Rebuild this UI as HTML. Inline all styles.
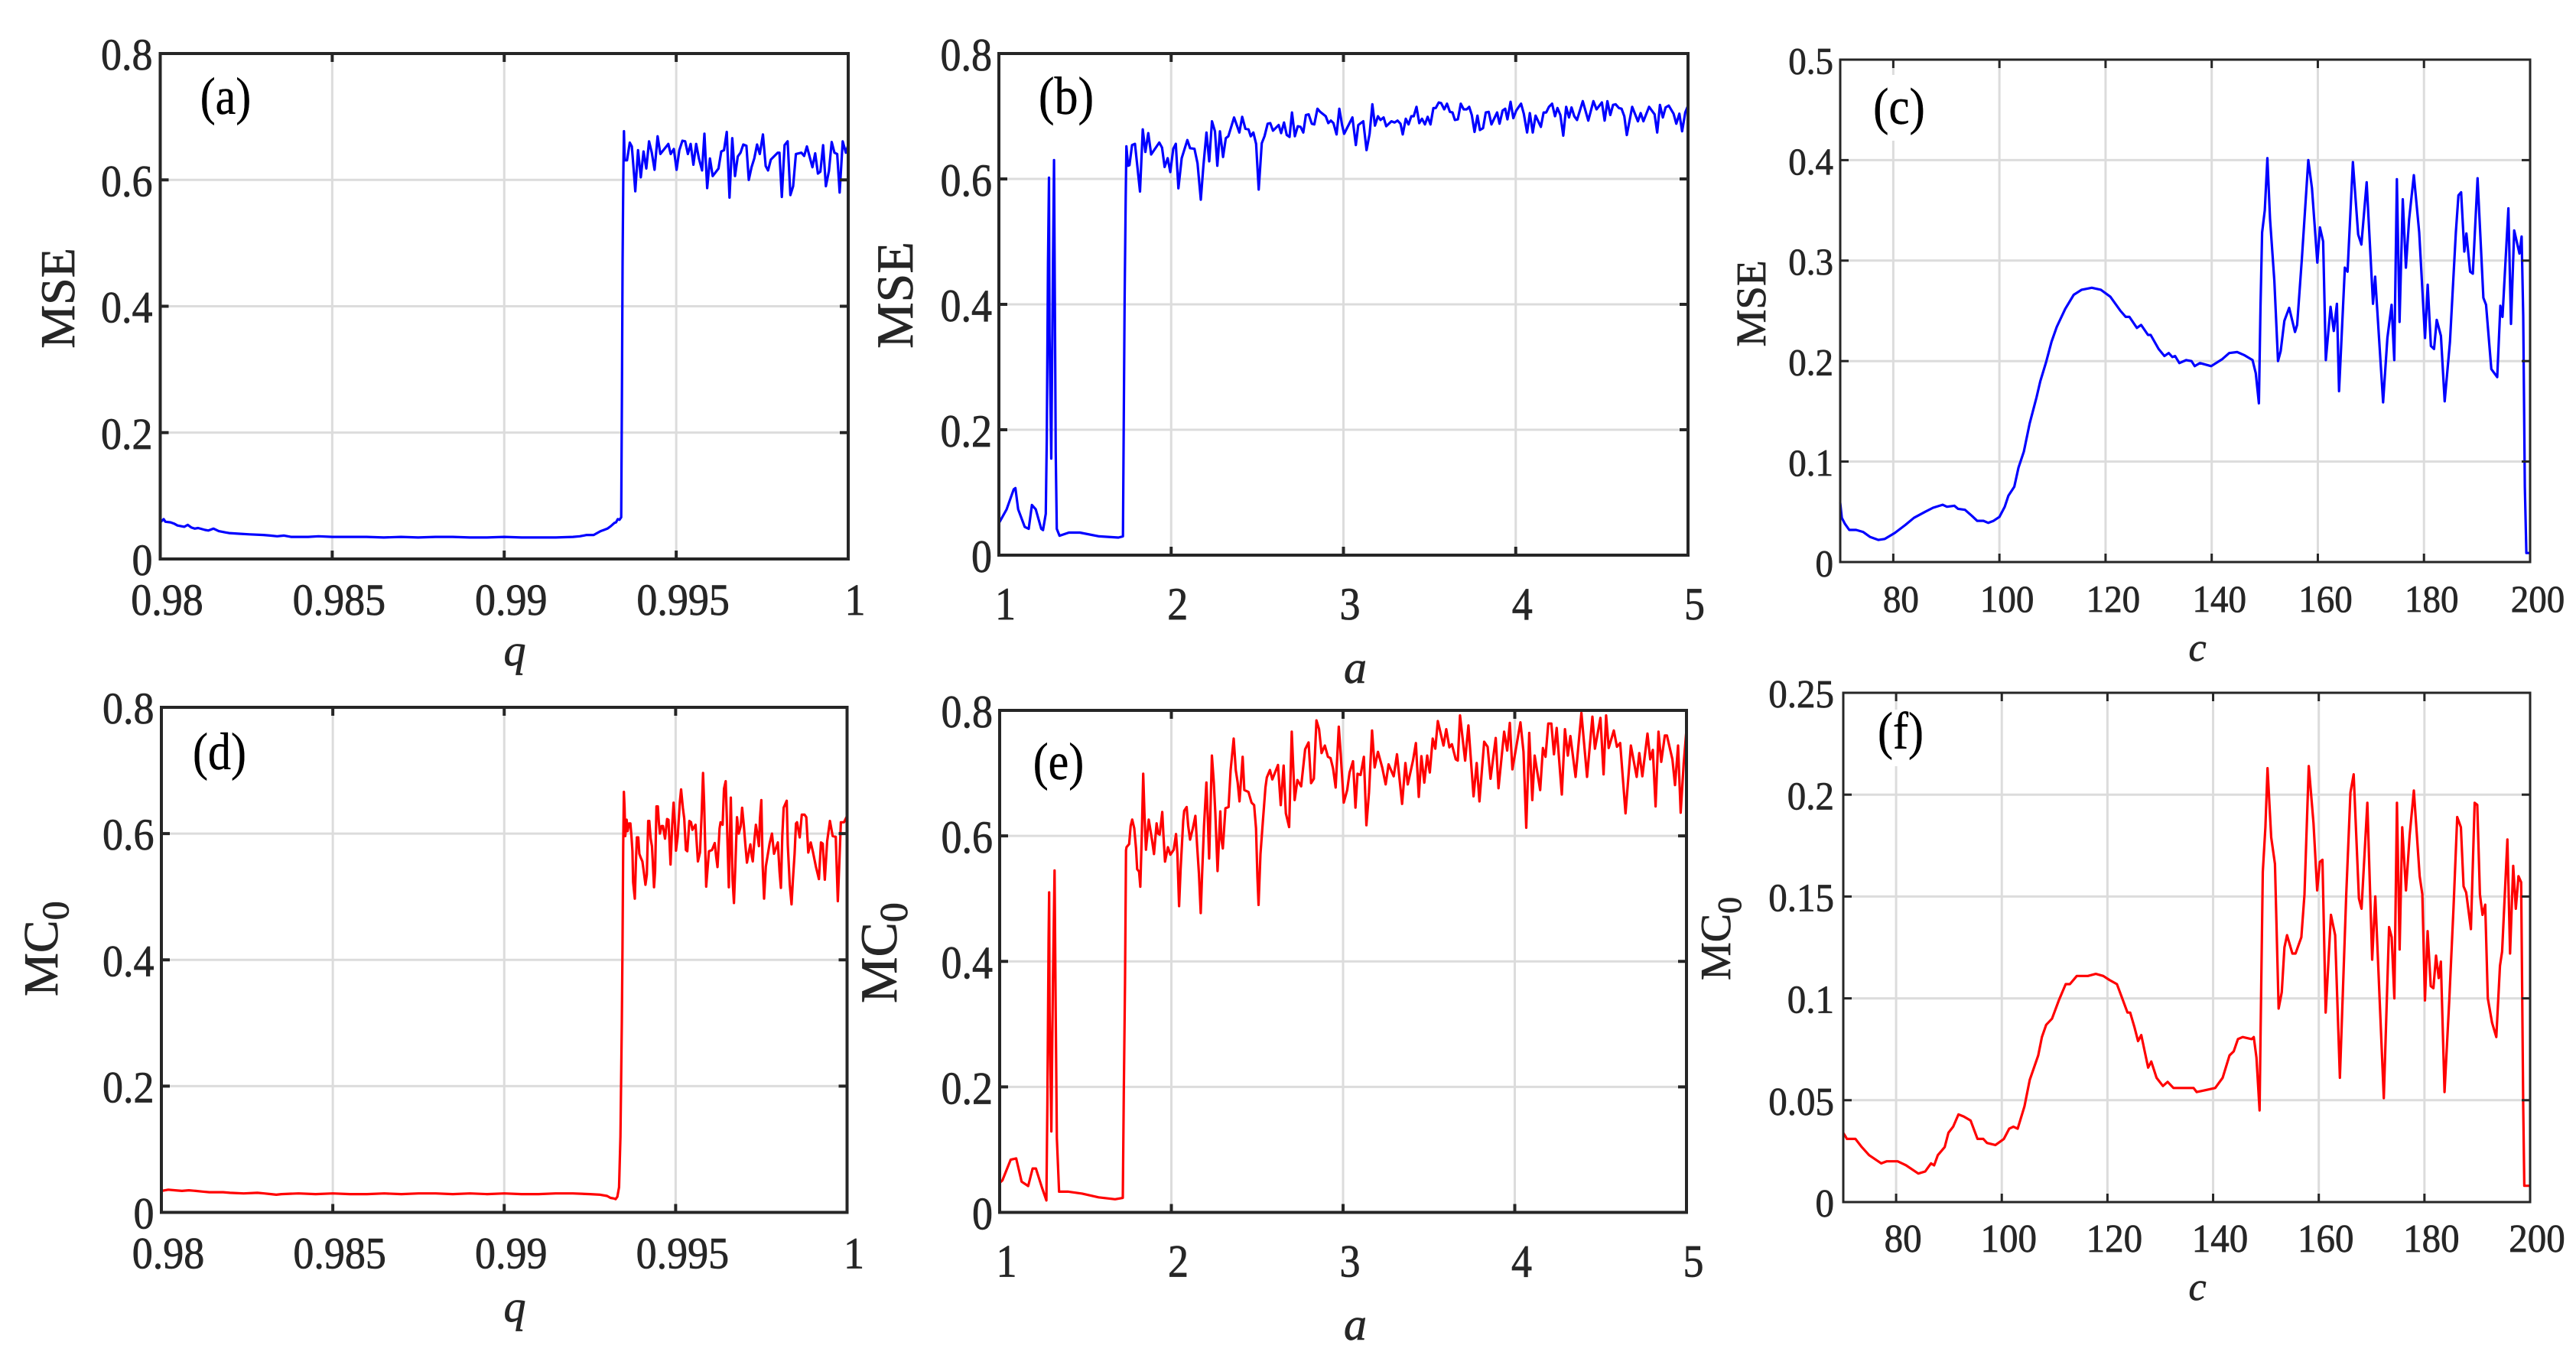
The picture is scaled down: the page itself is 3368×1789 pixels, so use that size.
<!DOCTYPE html>
<html lang="en">
<head>
<meta charset="utf-8">
<title>MSE and MC0 parameter sweeps</title>
<style>
html,body{margin:0;padding:0;background:#fff;width:3368px;height:1789px;overflow:hidden}
svg{display:block}
text{font-family:"Liberation Serif",serif;fill:#262626;stroke:#262626;stroke-width:.7px}
.pl{fill:#000;stroke:#000;stroke-width:.4px}
.it{font-style:italic}
</style>
</head>
<body>
<svg id="figure" xmlns="http://www.w3.org/2000/svg" width="3368" height="1789" viewBox="0 0 3368 1789">
<rect x="0" y="0" width="3368" height="1789" fill="#fff"/>
<g id="plots"></g>
<g>
<rect x="2449" y="98" width="68" height="86" fill="#fff"/>
<rect x="2454" y="928" width="62" height="74" fill="#fff"/>
<text class="pl" transform="translate(295 149) scale(1 1.14)" font-size="60" text-anchor="middle">(a)</text>
<text class="pl" transform="translate(1394 149) scale(1 1.12)" font-size="62" text-anchor="middle">(b)</text>
<text class="pl" transform="translate(2483 162) scale(1 1.12)" font-size="61" text-anchor="middle">(c)</text>
<text class="pl" transform="translate(287 1006) scale(1 1.14)" font-size="60" text-anchor="middle">(d)</text>
<text class="pl" transform="translate(1384 1019) scale(1 1.14)" font-size="60" text-anchor="middle">(e)</text>
<text class="pl" transform="translate(2485 979) scale(1 1.14)" font-size="60" text-anchor="middle">(f)</text>
<text class="it" x="673" y="870" font-size="58" text-anchor="middle">q</text>
<text class="it" x="1772" y="893" font-size="60" text-anchor="middle">a</text>
<text class="it" x="2873" y="864" font-size="52" text-anchor="middle">c</text>
<text class="it" x="673" y="1728" font-size="58" text-anchor="middle">q</text>
<text class="it" x="1772" y="1752" font-size="60" text-anchor="middle">a</text>
<text class="it" x="2873" y="1700" font-size="52" text-anchor="middle">c</text>
<text transform="translate(97 390) rotate(-90)" font-size="64" text-anchor="middle">MSE</text>
<text transform="translate(1193 386) rotate(-90)" font-size="68" text-anchor="middle">MSE</text>
<text transform="translate(2308 397) rotate(-90)" font-size="55" text-anchor="middle">MSE</text>
<text transform="translate(75 1303) rotate(-90)" font-size="64">MC<tspan font-size="50" dy="14">0</tspan></text>
<text transform="translate(1172 1312) rotate(-90)" font-size="68">MC<tspan font-size="52" dy="14">0</tspan></text>
<text transform="translate(2262 1282) rotate(-90)" font-size="56">MC<tspan font-size="44" dy="14">0</tspan></text>
</g>
</svg>
<script>
// Tick values and labels
const qTickValues = [0.98, 0.985, 0.99, 0.995, 1];
const qTickLabels = ["0.98", "0.985", "0.99", "0.995", "1"];
const aTickValues = [1, 2, 3, 4, 5];
const aTickLabels = ["1", "2", "3", "4", "5"];
const cTickValues = [80, 100, 120, 140, 160, 180, 200];
const cTickLabels = ["80", "100", "120", "140", "160", "180", "200"];
const y08TickValues = [0, 0.2, 0.4, 0.6, 0.8];
const y08TickLabels = ["0", "0.2", "0.4", "0.6", "0.8"];
const y05TickValues = [0, 0.1, 0.2, 0.3, 0.4, 0.5];
const y05TickLabels = ["0", "0.1", "0.2", "0.3", "0.4", "0.5"];
const y025TickValues = [0, 0.05, 0.1, 0.15, 0.2, 0.25];
const y025TickLabels = ["0", "0.05", "0.1", "0.15", "0.2", "0.25"];

// Panel (a): MSE vs q
const seriesAX = [.98,.9801,.98015,.9803,.9804,.9805,.9807,.9808,.9809,.981,.9811,.9813,.9814,.98155,.9817,.9819,.982,.9823,.9826,.983,.9832,.9834,.9836,.9838,.984,.9843,.9846,.985,.9855,.986,.9865,.987,.9875,.988,.9885,.989,.9895,.99,.9905,.991,.9915,.992,.9922,.9924,.9926,.9927,.9928,.9929,.993,.9931,.9932,.99325,.9933,.99335,.9934,.99342,.99344,.99346,.99347,
.99348,.99350,.99357,.99365,.99371,.99376,.99381,.99389,.99397,.99405,.99413,.99421,.99429,.99437,.99446,.99454,.99477,.99484,.99493,.99501,.99509,.99518,.99526,.99534,.99542,.99550,.99558,.99566,.99575,.99582,.99590,.99598,.99606,.99623,.99631,.99639,.99647,.99655,.99663,.99671,.99679,.99687,.99695,.99704,.99711,.99719,.99727,.99735,.99743,.99752,.99760,.99767,.99775,.99795,.99800,.99807,.99815,.99824,.99832,.99840,.99848,.99864,.99872,.99880,.99896,.99904,.99912,.99919,.99927,.99935,.99944,.99952,.99960,.99968,.99975,.99984,.99993,1];
const seriesAY = [.058,.063,.059,.058,.056,.053,.051,.054,.050,.048,.049,.046,.045,.048,.044,.042,.041,.040,.039,.038,.037,.036,.037,.035,.035,.035,.036,.035,.035,.035,.034,.035,.034,.035,.035,.034,.034,.035,.034,.034,.034,.035,.036,.038,.038,.041,.044,.046,.048,.052,.057,.058,.063,.062,.066,.25,.47,.60,.64,
.677,.631,.631,.659,.653,.618,.582,.647,.604,.645,.618,.661,.643,.616,.669,.641,.657,.641,.649,.616,.647,.662,.661,.641,.657,.624,.657,.634,.615,.673,.587,.634,.606,.618,.645,.647,.676,.572,.666,.606,.637,.643,.656,.654,.600,.620,.634,.656,.641,.672,.622,.615,.632,.643,.643,.573,.655,.661,.576,.590,.641,.643,.638,.653,.620,.642,.610,.613,.655,.590,.614,.660,.643,.641,.580,.661,.643,.655];

// Panel (b): MSE vs a
const seriesBX = [1,1.045,1.086,1.096,1.112,1.15,1.173,1.192,1.214,1.246,1.256,1.272,1.278,1.285,1.291,1.294,1.304,1.314,1.32,1.326,1.33,1.336,1.352,1.406,1.47,1.582,1.694,1.72,1.73,1.736,
1.740,1.750,1.758,1.773,1.790,1.805,1.819,1.835,1.850,1.867,1.884,1.931,1.947,1.962,1.980,1.995,2.012,2.027,2.042,2.061,2.094,2.110,2.135,2.153,2.172,2.187,2.205,2.221,2.237,2.254,2.268,2.283,2.301,2.317,2.332,2.365,2.396,2.412,2.431,2.449,2.462,2.477,2.493,2.508,2.526,2.542,2.560,2.575,2.591,2.624,2.638,2.655,2.671,2.687,2.701,2.718,2.735,2.751,2.767,2.782,2.798,2.816,2.831,2.849,2.865,2.897,2.912,2.927,2.942,2.960,2.976,
2.992,3.004,3.052,3.072,3.086,3.115,3.134,3.152,3.168,3.183,3.200,3.215,3.233,3.248,3.279,3.297,3.314,3.331,3.344,3.362,3.378,3.394,3.408,3.424,3.440,3.456,3.473,3.489,3.505,3.522,3.536,3.553,3.567,3.585,3.601,3.618,3.633,3.647,3.664,3.681,3.698,3.715,3.730,3.745,3.761,3.778,3.792,3.810,3.826,3.843,3.859,3.892,3.906,3.924,3.939,3.952,3.970,3.986,4.003,4.031,4.047,4.066,4.082,4.099,4.115,4.146,4.162,4.177,4.193,4.211,4.228,4.242,4.259,4.276,4.293,4.309,4.324,4.340,4.356,4.389,4.421,4.451,4.469,4.500,4.516,4.532,4.549,4.565,4.580,4.599,4.614,4.630,4.645,4.676,4.709,4.725,4.741,4.774,4.806,4.821,4.837,4.854,4.870,4.888,4.916,4.932,4.950,4.966,4.984,5];
const seriesBY = [.051,.073,.105,.107,.073,.045,.042,.08,.073,.042,.04,.066,.185,.465,.602,.353,.154,.465,.63,.36,.164,.042,.031,.036,.036,.030,.028,.030,.409,.57,
.652,.621,.622,.654,.656,.617,.580,.679,.643,.673,.639,.658,.650,.619,.633,.611,.648,.656,.585,.633,.662,.649,.648,.625,.567,.621,.674,.628,.692,.676,.621,.676,.635,.665,.668,.698,.674,.699,.680,.679,.668,.674,.656,.583,.657,.668,.688,.689,.677,.686,.673,.690,.670,.667,.706,.668,.684,.683,.674,.702,.703,.688,.687,.712,.707,.700,.689,.693,.689,.671,.712,
.686,.672,.698,.654,.686,.692,.646,.672,.719,.685,.700,.694,.698,.684,.692,.690,.693,.688,.671,.696,.687,.700,.700,.715,.689,.696,.687,.699,.687,.713,.713,.722,.721,.711,.720,.707,.706,.694,.695,.720,.711,.711,.715,.702,.675,.701,.678,.681,.706,.707,.687,.706,.688,.709,.712,.695,.723,.697,.709,.720,.704,.674,.705,.674,.701,.683,.706,.706,.715,.720,.700,.713,.702,.669,.715,.698,.714,.700,.694,.724,.693,.724,.711,.722,.693,.724,.702,.718,.719,.713,.712,.700,.670,.715,.692,.705,.692,.715,.703,.674,.718,.698,.714,.717,.704,.688,.704,.676,.706,.717];

// Panel (c): MSE vs c
const seriesCX = [70,70.3,70.9,71.7,73,74.3,75.6,77.2,78.4,80.3,82.3,83.9,86,87.5,89.3,90.1,91.5,92.2,93.5,94.8,95.8,97,97.9,98.9,100,101,101.7,102.8,103.6,104.6,105.7,107,107.7,108.8,109.8,110.8,112.4,114,115.5,117.4,119.1,120.9,122.8,123.8,124.5,125.9,126.7,128,128.5,130,131.1,131.9,132.6,133.1,133.9,135.2,136.2,136.8,137.8,139.9,142,143.3,144.8,146.1,147.7,148.3,148.9,149.2,149.5,150,150.5,151,151.8,152.5,153,153.7,154.6,155.7,156.1,157,158.2,158.9,159.9,160.4,161,161.5,162.4,163,163.6,164,165.1,165.6,166.6,167.6,168.2,169.2,170.4,170.8,172.3,173.1,173.9,174.4,174.9,175.4,176,176.6,177.2,178.1,179.1,180.2,180.7,181.3,181.9,182.4,183.2,183.9,184.9,186,186.5,187,187.6,188,188.7,189.2,190.1,191.2,191.7,192.7,193.8,194.4,194.8,195.9,196.4,197,198,198.4,198.7,199,199.3,200];
const seriesCY = [.059,.044,.038,.032,.032,.030,.025,.022,.023,.029,.037,.044,.050,.054,.057,.055,.056,.053,.052,.046,.041,.041,.039,.041,.045,.055,.066,.075,.094,.110,.138,.164,.180,.199,.219,.234,.252,.266,.271,.273,.271,.264,.250,.244,.244,.233,.236,.226,.226,.212,.205,.208,.204,.205,.198,.201,.200,.195,.198,.195,.202,.208,.209,.206,.201,.188,.158,.254,.328,.350,.402,.341,.280,.200,.210,.240,.253,.229,.236,.302,.400,.372,.298,.333,.319,.201,.254,.230,.257,.170,.293,.289,.398,.326,.316,.378,.257,.284,.159,.223,.256,.201,.381,.239,.361,.293,.341,.385,.328,.223,.276,.215,.212,.241,.225,.160,.219,.328,.365,.368,.309,.327,.289,.287,.382,.263,.256,.192,.184,.255,.244,.352,.237,.330,.307,.324,.245,.075,.009,.009];

// Panel (d): MC0 vs q
const seriesDX = [.98,.9802,.9804,.9806,.9808,.981,.9812,.9814,.9816,.9818,.982,.9824,.9828,.983,.9832,.98335,.9835,.984,.9845,.985,.9855,.986,.9865,.987,.9875,.988,.9885,.989,.9895,.99,.9905,.991,.9915,.992,.9925,.9928,.993,.9931,.9932,.99325,.9933,.99335,.99339,.99343,.99345,
.99347,.99349,.99351,.99353,.99357,.99360,.99364,.99368,.99371,.99374,.99376,.99381,.99384,.99387,.99391,.99394,.99398,.99403,.99407,.99412,.99416,.99420,.99423,.99427,.99431,.99433,.99437,.99440,.99444,.99448,.99451,.99454,.99459,.99463,.99469,.99475,.99479,.99485,.99490,.99494,.99498,.99501,.99506,.99512,.99516,.99521,.99525,.99530,.99534,.99540,.99545,.99549,.99558,.99562,.99565,.99571,.99576,.99580,.99583,.99589,.99597,.99606,.99614,.99618,.99622,.99628,.99631,.99637,.99641,.99646,.99649,.99655,.99661,.99666,.99670,.99674,.99679,.99684,.99690,.99694,.99699,.99703,.99708,.99714,.99718,.99722,.99725,.99730,.99734,.99738,.99743,.99746,.99750,.99754,.99758,.99763,.99768,.99774,.99781,.99787,.99798,.99803,.99807,.99811,.99815,.99824,.99827,.99833,.99838,.99842,.99847,.99851,.99854,.99862,.99868,.99876,.99881,.99887,.99894,.99900,.99909,.99918,.99924,.99929,.99935,.99942,.99950,.99958,.99967,.99973,.99978,.99982,.99991,1];
const seriesDY = [.034,.036,.035,.034,.035,.034,.033,.032,.032,.032,.031,.030,.031,.030,.029,.028,.029,.030,.029,.030,.029,.029,.030,.029,.030,.030,.029,.030,.029,.030,.029,.029,.030,.030,.029,.028,.026,.023,.022,.021,.025,.04,.12,.30,.42,
.58,.666,.641,.596,.622,.604,.616,.616,.596,.572,.523,.497,.554,.594,.594,.568,.562,.556,.540,.519,.535,.620,.620,.592,.580,.560,.515,.540,.643,.643,.618,.600,.612,.612,.592,.623,.622,.551,.614,.649,.614,.573,.596,.649,.670,.641,.624,.574,.572,.620,.618,.606,.614,.580,.556,.570,.632,.696,.649,.516,.572,.574,.585,.564,.547,.608,.618,.614,.671,.683,.628,.515,.657,.527,.490,.548,.626,.600,.612,.641,.612,.584,.554,.572,.583,.564,.556,.592,.614,.600,.580,.624,.653,.548,.497,.548,.564,.584,.600,.568,.586,.540,.514,.596,.641,.652,.582,.519,.488,.527,.568,.616,.618,.594,.630,.630,.626,.570,.586,.572,.548,.528,.586,.584,.527,.588,.620,.596,.595,.493,.560,.618,.618,.628];

// Panel (e): MC0 vs a
const seriesEX = [1,1.016,1.064,1.096,1.128,1.166,1.192,1.211,1.246,1.272,1.278,1.285,1.288,1.291,1.301,1.31,1.32,1.326,1.333,1.346,1.40,1.48,1.576,1.672,1.717,1.723,1.73,1.736,
1.739,1.754,1.763,1.772,1.784,1.794,1.801,1.812,1.819,1.828,1.836,1.843,1.852,1.868,1.879,1.888,1.899,1.914,1.922,1.932,1.947,1.954,1.963,1.980,1.994,2.014,2.027,2.035,2.045,2.054,2.069,2.075,2.089,2.098,2.109,2.125,2.140,2.150,2.161,2.171,2.179,2.190,2.204,2.211,2.220,2.236,2.247,2.256,2.269,2.285,2.291,2.300,2.315,2.333,2.345,2.363,2.375,2.386,2.397,2.415,2.425,2.449,2.467,2.482,2.493,2.501,2.508,2.519,2.533,2.548,2.556,2.574,2.588,2.621,2.637,2.654,2.667,2.686,2.701,2.718,2.734,2.756,2.779,2.799,2.814,2.830,2.845,2.860,2.875,2.894,2.912,2.927,2.942,2.957,2.975,2.986,3.004,3.024,3.038,3.058,
3.072,3.084,3.102,3.121,3.136,3.151,3.169,3.184,3.203,3.228,3.248,3.265,3.295,3.314,3.344,3.363,3.377,3.407,3.424,3.441,3.456,3.473,3.490,3.505,3.522,3.537,3.552,3.585,3.601,3.619,3.634,3.656,3.668,3.681,3.711,3.730,3.760,3.778,3.794,3.822,3.842,3.859,3.889,3.905,3.938,3.956,3.971,3.986,4.033,4.051,4.067,4.084,4.102,4.116,4.148,4.164,4.179,4.195,4.213,4.228,4.244,4.274,4.292,4.309,4.324,4.354,4.388,4.421,4.452,4.467,4.499,4.517,4.532,4.547,4.577,4.595,4.614,4.645,4.676,4.710,4.725,4.743,4.773,4.789,4.804,4.820,4.837,4.853,4.874,4.886,4.918,4.933,4.951,4.966,4.984,5];
const seriesEY = [.047,.051,.084,.086,.049,.042,.070,.070,.040,.019,.174,.436,.510,.323,.129,.365,.545,.33,.118,.033,.033,.030,.024,.021,.023,.189,.365,.577,
.582,.587,.616,.626,.612,.580,.547,.543,.519,.604,.699,.636,.578,.626,.608,.592,.571,.620,.604,.602,.638,.600,.559,.582,.570,.578,.603,.571,.488,.547,.624,.640,.646,.616,.594,.612,.632,.584,.539,.477,.539,.616,.685,.636,.564,.728,.685,.636,.544,.639,.596,.580,.644,.646,.705,.755,.705,.685,.655,.726,.673,.670,.653,.649,.612,.535,.490,.571,.624,.677,.693,.705,.690,.713,.649,.712,.636,.614,.766,.657,.689,.679,.738,.749,.684,.691,.784,.770,.732,.744,.726,.724,.707,.677,.774,.730,.653,.673,.701,.719,
.645,.699,.697,.726,.617,.669,.768,.709,.734,.709,.682,.714,.695,.730,.651,.716,.682,.720,.748,.662,.727,.685,.728,.701,.755,.739,.783,.744,.770,.741,.746,.722,.720,.792,.720,.776,.663,.716,.655,.750,.742,.691,.756,.676,.766,.736,.780,.706,.781,.734,.613,.764,.657,.728,.673,.740,.726,.779,.779,.730,.772,.666,.770,.728,.759,.694,.796,.694,.790,.739,.788,.698,.792,.740,.768,.742,.748,.636,.744,.694,.732,.695,.763,.722,.737,.647,.766,.718,.760,.760,.722,.681,.744,.637,.716,.770];

// Panel (f): MC0 vs c
const seriesFX = [70,70.7,72.3,73.5,74.9,77.2,78.2,80.3,81.9,84.2,85.5,86.6,87.2,87.9,89.2,89.9,90.8,91.8,92.8,94.1,95.4,96.5,97.2,98.8,100.4,101.4,102.2,103,104.3,105.3,106.9,107.6,108.4,109.5,110.8,112.1,112.9,114.2,116.3,117.8,119.2,120.4,121.8,122.8,123.8,124.3,125.1,125.8,126.4,127.7,128.3,129.3,130.5,131.4,132.5,135,136.3,136.9,138.6,140.4,141.8,143.1,143.9,144.7,145.6,147.3,147.7,148.2,148.8,149,149.4,149.9,150.3,151,151.7,152.4,153,153.5,154,155,155.6,156.7,157.3,158.1,159,159.7,160.2,160.7,161.3,162.3,163.1,164,165.2,166,166.6,167.6,168.1,169.2,170.1,170.7,172.3,173.3,173.8,174.3,174.8,175.3,175.8,176.5,177.2,178,179.1,179.6,180.1,180.6,181.2,181.7,182.2,182.7,183.1,183.8,184.7,185.5,186.2,186.9,187.4,187.9,188.8,189.5,190,190.5,191,191.5,192,192.8,193.6,194.3,194.7,195.7,196.2,196.8,197.3,197.8,198.3,198.7,198.9,200];
const seriesFY = [.034,.031,.031,.027,.023,.019,.020,.020,.018,.014,.015,.019,.018,.023,.027,.034,.037,.043,.042,.040,.031,.031,.029,.028,.031,.036,.037,.036,.047,.060,.072,.081,.087,.090,.099,.107,.107,.111,.111,.112,.111,.109,.107,.100,.093,.093,.086,.079,.082,.066,.069,.061,.057,.059,.056,.056,.056,.054,.055,.056,.061,.072,.074,.080,.081,.080,.081,.071,.045,.086,.162,.184,.213,.179,.166,.095,.103,.125,.131,.122,.122,.130,.151,.214,.186,.153,.167,.168,.093,.141,.131,.061,.151,.201,.210,.149,.144,.196,.119,.150,.051,.135,.130,.100,.196,.124,.184,.153,.180,.202,.160,.151,.099,.133,.106,.105,.121,.110,.118,.054,.099,.144,.189,.184,.155,.152,.134,.196,.195,.151,.141,.146,.100,.088,.081,.116,.123,.178,.122,.165,.144,.160,.157,.047,.008,.008];

const panels = [
  {id:'a', box:[209.5,70,1109,731], xd:[.98,1], yd:[0,.8], xv:qTickValues, xl:qTickLabels, yv:y08TickValues, yl:y08TickLabels, X:seriesAX, Y:seriesAY, color:'#0000ff', fs:54, stretch:1.07, xShift:9, xBase:73, yRight:199.5, aw:4},
  {id:'b', box:[1306,70,2207,726], xd:[1,5], yd:[0,.8], xv:aTickValues, xl:aTickLabels, yv:y08TickValues, yl:y08TickLabels, X:seriesBX, Y:seriesBY, color:'#0000ff', fs:54, stretch:1.12, xShift:8.5, xBase:84, yRight:1297, aw:4},
  {id:'c', box:[2406,78,3308,735], xd:[70,200], yd:[0,.5], xv:cTickValues, xl:cTickLabels, yv:y05TickValues, yl:y05TickLabels, X:seriesCX, Y:seriesCY, color:'#0000ff', fs:47, stretch:1.06, xShift:10, xBase:65, yRight:2397, aw:3},
  {id:'d', box:[211,925,1107.5,1585.5], xd:[.98,1], yd:[0,.8], xv:qTickValues, xl:qTickLabels, yv:y08TickValues, yl:y08TickLabels, X:seriesDX, Y:seriesDY, color:'#ff0000', fs:54, stretch:1.07, xShift:9, xBase:73, yRight:201.5, aw:4},
  {id:'e', box:[1307,929,2205,1585.5], xd:[1,5], yd:[0,.8], xv:aTickValues, xl:aTickLabels, yv:y08TickValues, yl:y08TickLabels, X:seriesEX, Y:seriesEY, color:'#ff0000', fs:54, stretch:1.12, xShift:9, xBase:84, yRight:1298, aw:4},
  {id:'f', box:[2410,906,3308,1572], xd:[70,200], yd:[0,.25], xv:cTickValues, xl:cTickLabels, yv:y025TickValues, yl:y025TickLabels, X:seriesFX, Y:seriesFY, color:'#ff0000', fs:49, stretch:1.06, xShift:9, xBase:65, yRight:2398, aw:3}
];

const NS = 'http://www.w3.org/2000/svg';
const root = document.getElementById('plots');

function make(tag, attrs, parent) {
  const el = document.createElementNS(NS, tag);
  for (const k in attrs) el.setAttribute(k, attrs[k]);
  parent.appendChild(el);
  return el;
}

function drawPanel(p) {
  const L = p.box[0], T = p.box[1], R = p.box[2], B = p.box[3];
  const sx = v => L + (v - p.xd[0]) / (p.xd[1] - p.xd[0]) * (R - L);
  const sy = v => B - (v - p.yd[0]) / (p.yd[1] - p.yd[0]) * (B - T);
  const tickLen = 11;
  const dark = '#262626';
  const prefix = 'panel-' + p.id;
  const stretch = ' scale(1 ' + p.stretch + ')';

  const g = make('g', {}, root);
  
  

  p.xv.forEach(function (v) {
    if (v === p.xd[0] || v === p.xd[1]) return;
    const line = make('line', {x1:sx(v), x2:sx(v), y1:T, y2:B, stroke:'#dcdcdc', 'stroke-width':3}, g);
    
    
  });
  p.yv.forEach(function (v) {
    if (v === p.yd[0] || v === p.yd[1]) return;
    const line = make('line', {x1:L, x2:R, y1:sy(v), y2:sy(v), stroke:'#dcdcdc', 'stroke-width':3}, g);
    
    
  });

  let d = '';
  p.X.forEach(function (x, i) {
    d += (i ? 'L' : 'M') + sx(x).toFixed(1) + ' ' + sy(p.Y[i]).toFixed(1);
  });
  const path = make('path', {d:d, fill:'none', stroke:p.color, 'stroke-width':3.2, 'stroke-linejoin':'round'}, g);
  
  

  p.xv.forEach(function (v, i) {
    [[B, B - tickLen], [T, T + tickLen]].forEach(function (pair) {
      if (v === p.xd[0] || v === p.xd[1]) return;
      const tick = make('line', {x1:sx(v), x2:sx(v), y1:pair[0], y2:pair[1], stroke:dark, 'stroke-width':p.aw}, g);
      
      
    });
    const label = make('text', {transform:'translate(' + (sx(v) + p.xShift) + ' ' + (B + p.xBase) + ')' + stretch, 'font-size':p.fs, 'text-anchor':'middle'}, g);
    label.textContent = p.xl[i];
    
    
  });
  p.yv.forEach(function (v, i) {
    [[L, L + tickLen], [R, R - tickLen]].forEach(function (pair) {
      if (v === p.yd[0] || v === p.yd[1]) return;
      const tick = make('line', {x1:pair[0], x2:pair[1], y1:sy(v), y2:sy(v), stroke:dark, 'stroke-width':p.aw}, g);
      
      
    });
    const label = make('text', {transform:'translate(' + p.yRight + ' ' + (sy(v) + p.fs * 0.33 * p.stretch + 2) + ')' + stretch, 'font-size':p.fs, 'text-anchor':'end'}, g);
    label.textContent = p.yl[i];
    
    
  });

  const frame = make('rect', {x:L, y:T, width:R - L, height:B - T, fill:'none', stroke:dark, 'stroke-width':p.aw}, g);
  
  
}

panels.forEach(drawPanel);
</script>
</body>
</html>
